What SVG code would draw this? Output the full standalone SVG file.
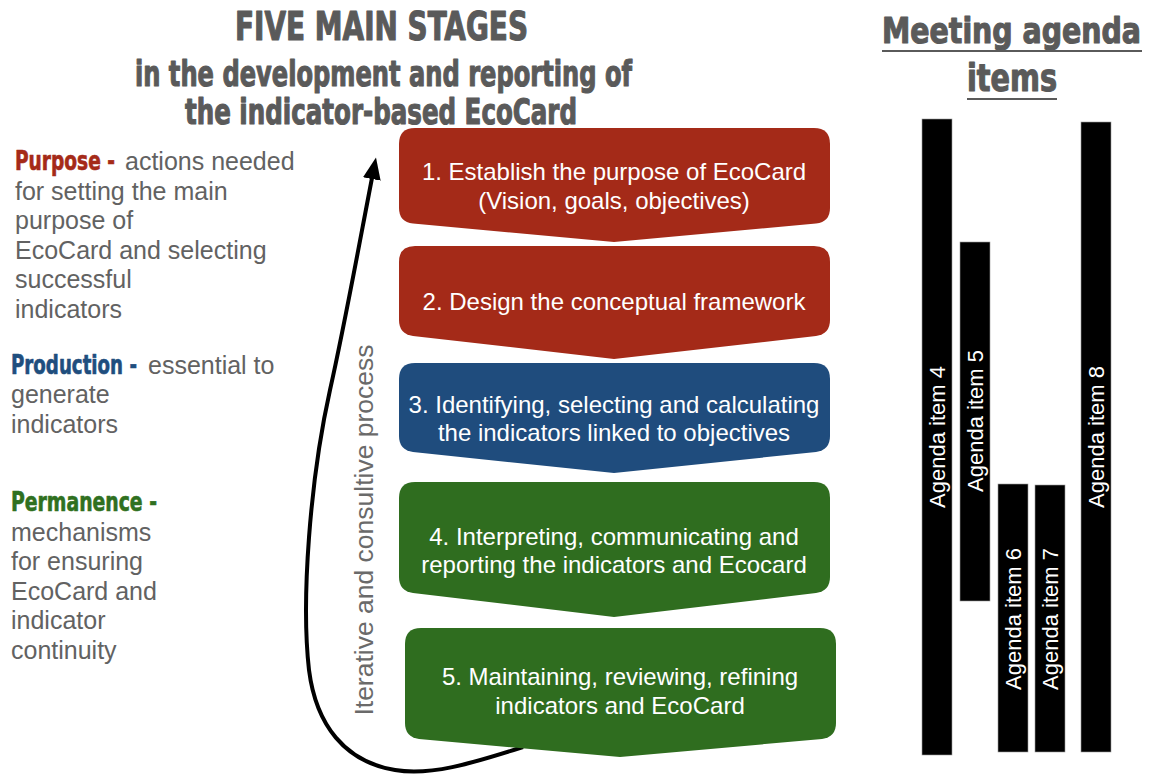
<svg xmlns="http://www.w3.org/2000/svg" width="1154" height="774" viewBox="0 0 1154 774">
<style>
.title{font-family:"Liberation Sans Narrow","DejaVu Sans Condensed","Liberation Sans",Arial,sans-serif;font-weight:bold;fill:#5a5a5a;stroke:#5a5a5a;stroke-width:1.1;stroke-linejoin:round;}
.body{font-family:"Liberation Sans",Arial,sans-serif;font-size:25px;fill:#626262;}
.kw{font-family:"Liberation Sans Narrow","DejaVu Sans Condensed","Liberation Sans",Arial,sans-serif;font-weight:bold;font-size:26px;stroke-width:0.6;stroke-linejoin:round;}
.red{fill:#a52a18;stroke:#a52a18;}
.blue{fill:#1f4e7e;stroke:#1f4e7e;}
.green{fill:#2f7020;stroke:#2f7020;}
.box-text{font-family:"Liberation Sans",Arial,sans-serif;font-size:24px;fill:#ffffff;text-anchor:middle;}
.bar{fill:#000000;stroke:#9a9a9a;stroke-width:0.6;}
.bar-text{font-family:"Liberation Sans",Arial,sans-serif;font-size:22px;fill:#ffffff;text-anchor:middle;}
.side{font-family:"Liberation Sans",Arial,sans-serif;font-size:26.5px;fill:#6a6a6a;text-anchor:middle;}
.ul{stroke:#5a5a5a;stroke-width:2.2;}
</style>
<defs>
<marker id="head" viewBox="0 0 22 18" refX="1" refY="9" markerWidth="22" markerHeight="18" markerUnits="userSpaceOnUse" orient="auto">
<path d="M0,0 L22,9 L0,18 z" fill="#000"/>
</marker>
</defs>
<rect width="1154" height="774" fill="#ffffff"/>

<g id="title">
<text class="title" x="235" y="40" font-size="39" textLength="293" lengthAdjust="spacingAndGlyphs">FIVE MAIN STAGES</text>
<text class="title" x="135" y="86" font-size="36" textLength="497" lengthAdjust="spacingAndGlyphs">in the development and reporting of</text>
<text class="title" x="185" y="124" font-size="36" textLength="392" lengthAdjust="spacingAndGlyphs">the indicator-based EcoCard</text>
</g>

<g id="agenda-title">
<text class="title" x="882" y="43" font-size="36" textLength="259" lengthAdjust="spacingAndGlyphs">Meeting agenda</text>
<line class="ul" x1="882" y1="51" x2="1142" y2="51"/>
<text class="title" x="967" y="91" font-size="37" textLength="90" lengthAdjust="spacingAndGlyphs">items</text>
<line class="ul" x1="967" y1="99" x2="1057" y2="99"/>
</g>

<g id="legend-purpose">
<text class="kw red" x="15" y="170" textLength="100" lengthAdjust="spacingAndGlyphs">Purpose -</text>
<text class="body" x="125" y="170">actions needed</text>
<text class="body" x="15" y="200">for setting the main</text>
<text class="body" x="15" y="229">purpose of</text>
<text class="body" x="15" y="259">EcoCard and selecting</text>
<text class="body" x="15" y="288">successful</text>
<text class="body" x="15" y="318">indicators</text>
</g>

<g id="legend-production">
<text class="kw blue" x="11" y="374" textLength="126" lengthAdjust="spacingAndGlyphs">Production -</text>
<text class="body" x="148" y="374">essential to</text>
<text class="body" x="11" y="403">generate</text>
<text class="body" x="11" y="433">indicators</text>
</g>

<g id="legend-permanence">
<text class="kw green" x="11" y="511" textLength="146" lengthAdjust="spacingAndGlyphs">Permanence -</text>
<text class="body" x="11" y="541">mechanisms</text>
<text class="body" x="11" y="570">for ensuring</text>
<text class="body" x="11" y="600">EcoCard and</text>
<text class="body" x="11" y="629">indicator</text>
<text class="body" x="11" y="659">continuity</text>
</g>

<g id="connectors">
<path d="M523,747 C470,764 430,776 395,770 C345,762 316,725 309,670 C301,600 310,480 330,390 C345,323 360,240 372,178" fill="none" stroke="#000" stroke-width="4" marker-end="url(#head)"/>
</g>

<g id="process-label">
<text class="side" transform="translate(373,530) rotate(-90)" x="0" y="0">Iterative and consultive process</text>
</g>

<g id="stage1">
<path d="M415,128 H814 Q830,128 830,144 V208 Q830,222 816,223.5 L614,242 L413,223.5 Q399,222 399,208 V144 Q399,128 415,128 Z" fill="#a42a18"/>
<text class="box-text" x="614" y="180">1. Establish the purpose of EcoCard</text>
<text class="box-text" x="614" y="209">(Vision, goals, objectives)</text>
</g>

<g id="stage2">
<path d="M415,246 H814 Q830,246 830,262 V320 Q830,334 816,336 L614,359 L413,336 Q399,334 399,320 V262 Q399,246 415,246 Z" fill="#a42a18"/>
<text class="box-text" x="614" y="310">2. Design the conceptual framework</text>
</g>

<g id="stage3">
<path d="M415,363 H814 Q830,363 830,379 V436 Q830,450 816,452 L614,473 L413,452 Q399,450 399,436 V379 Q399,363 415,363 Z" fill="#1f4c7d"/>
<text class="box-text" x="614" y="413">3. Identifying, selecting and calculating</text>
<text class="box-text" x="614" y="441">the indicators linked to objectives</text>
</g>

<g id="stage4">
<path d="M415,482 H814 Q830,482 830,498 V577 Q830,591 816,593 L614,617 L413,593 Q399,591 399,577 V498 Q399,482 415,482 Z" fill="#2f6d1f"/>
<text class="box-text" x="614" y="545">4. Interpreting, communicating and</text>
<text class="box-text" x="614" y="573">reporting the indicators and Ecocard</text>
</g>

<g id="stage5">
<path d="M421,628 H820 Q836,628 836,644 V723 Q836,737 822,739 L620,757 L419,739 Q405,737 405,723 V644 Q405,628 421,628 Z" fill="#2f6d1f"/>
<text class="box-text" x="620" y="685">5. Maintaining, reviewing, refining</text>
<text class="box-text" x="620" y="714">indicators and EcoCard</text>
</g>

<g id="agenda4">
<rect class="bar" x="922" y="119" width="30" height="636"/>
<text class="bar-text" transform="translate(937,437) rotate(-90)" x="0" y="8">Agenda item 4</text>
</g>
<g id="agenda5">
<rect class="bar" x="960" y="242" width="30" height="359"/>
<text class="bar-text" transform="translate(975,421) rotate(-90)" x="0" y="8">Agenda item 5</text>
</g>
<g id="agenda6">
<rect class="bar" x="998" y="484" width="30" height="268"/>
<text class="bar-text" transform="translate(1013,619) rotate(-90)" x="0" y="8">Agenda item 6</text>
</g>
<g id="agenda7">
<rect class="bar" x="1035" y="485" width="30" height="267"/>
<text class="bar-text" transform="translate(1050,619) rotate(-90)" x="0" y="8">Agenda item 7</text>
</g>
<g id="agenda8">
<rect class="bar" x="1081" y="122" width="30" height="630"/>
<text class="bar-text" transform="translate(1096,437) rotate(-90)" x="0" y="8">Agenda item 8</text>
</g>
</svg>
